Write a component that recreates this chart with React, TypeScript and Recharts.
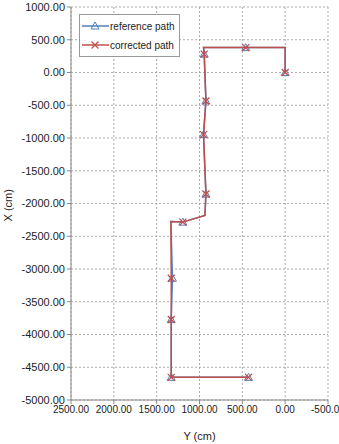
import React from 'react';
import {
  ScatterChart,
  Scatter,
  XAxis,
  YAxis,
  CartesianGrid,
} from 'recharts';

// Y (cm) along the horizontal axis, X (cm) along the vertical axis
const refY = [0, 0, 460, 953, 945, 925, 953, 925, 937, 1194, 1334, 1316, 1330, 1330, 428];
const refX = [0, 380, 380, 380, 280, -434, -948, -1856, -2182, -2284, -2274, -3141, -3772, -4654, -4654];
const corY = [0, 0, 460, 953, 945, 925, 953, 925, 937, 1194, 1334, 1330, 1330, 1330, 428];
const corX = [0, 380, 380, 380, 280, -434, -948, -1856, -2182, -2284, -2274, -3141, -3772, -4654, -4654];
// points with a marker (the rest are path corners)
const measuredIdx = [0, 2, 4, 5, 6, 7, 9, 11, 12, 13, 14];

const yTicks = [2500, 2000, 1500, 1000, 500, 0, -500];
const xTicks = [1000, 500, 0, -500, -1000, -1500, -2000, -2500, -3000, -3500, -4000, -4500, -5000];

const BLUE = '#4f81bd';
const RED = '#c0504d';
const FONT = '"Liberation Sans", Arial, sans-serif';

const refPath = refY.map((y, i) => ({ y, x: refX[i] }));
const corPath = corY.map((y, i) => ({ y, x: corX[i] }));
const refMarks = measuredIdx.map((i) => refPath[i]);
const corMarks = measuredIdx.map((i) => corPath[i]);

const Triangle = (props: any) => {
  const { cx, cy } = props;
  if (cx == null || cy == null) return <g />;
  return (
    <path
      d={`M${cx},${cy - 4} L${cx + 4},${cy + 3} L${cx - 4},${cy + 3} Z`}
      fill="none"
      stroke={BLUE}
      strokeWidth={1}
    />
  );
};

const Cross = (props: any) => {
  const { cx, cy } = props;
  if (cx == null || cy == null) return <g />;
  return (
    <path
      d={`M${cx - 3.5},${cy - 3.5} L${cx + 3.5},${cy + 3.5} M${cx + 3.5},${cy - 3.5} L${cx - 3.5},${cy + 3.5}`}
      stroke={RED}
      strokeWidth={1.3}
    />
  );
};

const Nothing = () => <g />;

const LegendBox = () => (
  <svg width={102} height={44} style={{ display: 'block' }}>
    <rect x={0.5} y={0.5} width={100} height={42} fill="#fff" stroke="#999" />
    <line x1={3} x2={30} y1={12} y2={12} stroke={BLUE} strokeWidth={1.5} />
    <Triangle cx={16} cy={12} />
    <text x={31} y={15.5} fontSize={10} fontFamily={FONT} fill="#222">reference path</text>
    <line x1={3} x2={30} y1={31} y2={31} stroke={RED} strokeWidth={1.5} />
    <Cross cx={16} cy={31} />
    <text x={31} y={34.5} fontSize={10} fontFamily={FONT} fill="#222">corrected path</text>
  </svg>
);

export default function App() {
  return (
    <div style={{ position: 'absolute', left: 0, top: 0, width: 339, height: 444, background: '#fff' }}>
      <ScatterChart
        width={339}
        height={444}
        margin={{ top: 7, right: 11, bottom: 0, left: 0 }}
      >
        <CartesianGrid stroke="#aaa" strokeDasharray="2 2" />
        <XAxis
          type="number"
          dataKey="y"
          reversed
          domain={[-500, 2500]}
          ticks={yTicks}
          interval={0}
          height={44}
          tickFormatter={(v) => v.toFixed(2)}
          tick={{ fontSize: 10, fontFamily: FONT, fill: '#222' }}
          tickSize={4}
          tickLine={{ stroke: '#888' }}
          axisLine={{ stroke: '#888' }}
          label={{ value: 'Y (cm)', position: 'insideBottom', offset: 4, fontSize: 11, fontFamily: FONT, fill: '#222' }}
        />
        <YAxis
          type="number"
          dataKey="x"
          domain={[-5000, 1000]}
          ticks={xTicks}
          interval={0}
          width={71}
          tickFormatter={(v) => v.toFixed(2)}
          tick={{ fontSize: 11, fontFamily: FONT, fill: '#222' }}
          tickSize={4}
          tickLine={{ stroke: '#888' }}
          axisLine={{ stroke: '#888' }}
          label={{ value: 'X (cm)', angle: -90, position: 'insideLeft', offset: 8, fontSize: 11, fontFamily: FONT, fill: '#222', dy: 18 }}
        />
        <Scatter
          name="reference path"
          data={refPath}
          line={{ stroke: BLUE, strokeWidth: 1.5 }}
          lineType="joint"
          shape={Nothing}
          isAnimationActive={false}
        />
        <Scatter
          name="reference marks"
          data={refMarks}
          shape={Triangle}
          isAnimationActive={false}
        />
        <Scatter
          name="corrected path"
          data={corPath}
          line={{ stroke: RED, strokeWidth: 1.5 }}
          lineType="joint"
          shape={Nothing}
          isAnimationActive={false}
        />
        <Scatter
          name="corrected marks"
          data={corMarks}
          shape={Cross}
          isAnimationActive={false}
        />
      </ScatterChart>
      <div style={{ position: 'absolute', left: 79, top: 14 }}>
        <LegendBox />
      </div>
    </div>
  );
}
